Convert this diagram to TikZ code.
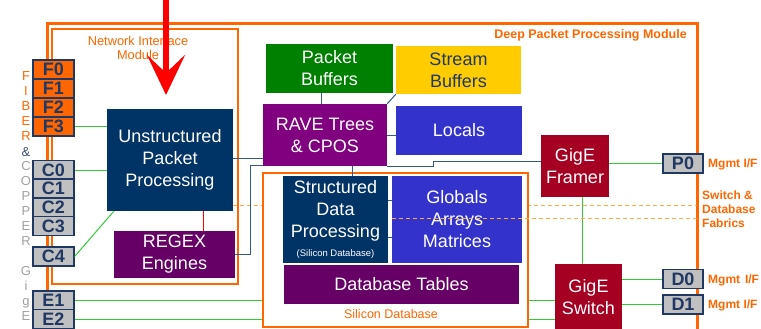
\documentclass[tikz,border=0pt]{standalone}
\usepackage{fontspec}
\setmainfont{Liberation Sans}
\usetikzlibrary{arrows.meta}

\definecolor{modorange}{RGB}{255,102,0}
\definecolor{dashorange}{RGB}{255,170,60}
\definecolor{navyblue}{RGB}{0,51,102}
\definecolor{regexpurple}{RGB}{102,0,102}
\definecolor{ravepurple}{RGB}{128,0,128}
\definecolor{bufgreen}{RGB}{0,128,0}
\definecolor{bufyellow}{RGB}{255,204,0}
\definecolor{memblue}{RGB}{51,51,204}
\definecolor{gigered}{RGB}{165,0,33}
\definecolor{portgray}{RGB}{192,192,192}
\definecolor{portblue}{RGB}{31,56,100}
\definecolor{linkgreen}{RGB}{51,204,51}
\definecolor{linkblue}{RGB}{51,90,140}
\definecolor{lettergray}{RGB}{160,160,160}

\tikzset{
  unit/.style={inner sep=0pt, align=center, text=white, font=\fontsize{18}{22}\selectfont},
  port/.style={draw=portblue, line width=1.2pt, fill=portgray, text=portblue, inner sep=0pt,
               minimum width=41, minimum height=19, font=\fontsize{18}{18}\selectfont\bfseries},
  module/.style={draw=modorange, line width=3pt},
  tag/.style={text=modorange, font=\fontsize{12.5}{14}\selectfont\bfseries, inner sep=0pt},
  green link/.style={draw=linkgreen, line width=1pt},
  blue link/.style={draw=linkblue, line width=1pt},
  fabric/.style={draw=dashorange, line width=1pt, dash pattern=on 4pt off 3pt},
}

\begin{document}
\begin{tikzpicture}[x=1pt, y=-1pt]
\useasboundingbox (0,0) rectangle (761,329);

% module frames
\draw[module] (47,24) rectangle (697,345);
\draw[module, line width=2.5pt] (52,29) rectangle (238,284);
\node[tag, anchor=east] (dppm) at (687,35) {Deep Packet Processing Module};
\node[tag, font=\fontsize{12.8}{14}\selectfont, align=center] (nim) at (138,48) {Network Interface\\Module};

% side letters
\node[text=modorange, font=\fontsize{13}{15}\selectfont, align=center, inner sep=0pt] (fiber) at (26,106.5) {F\\I\\B\\E\\R};
\node[text=portblue!70!gray, font=\fontsize{13}{15}\selectfont, inner sep=0pt] (amp) at (26,152) {\&};
\node[text=lettergray, font=\fontsize{13}{15}\selectfont, align=center, inner sep=0pt] (copper) at (26,203.5) {C\\O\\P\\P\\E\\R};
\node[text=lettergray, font=\fontsize{13}{15}\selectfont, align=center, inner sep=0pt] (gige) at (26,293.5) {G\\i\\g\\E};

% ports
\foreach \name/\y in {F0/69.5, F1/88.5, F2/107.5, F3/126.5}
  \node[port, fill=modorange] (\name) at (53.5,\y) {\name};
\foreach \name/\y in {C0/170, C1/188.5, C2/207.5, C3/226, C4/256.5, E1/300.5, E2/319}
  \node[port] (\name) at (53.5,\y) {\name};
\foreach \name/\y in {P0/163.5, D0/279, D1/304.5}
  \node[port, minimum width=40] (\name) at (683,\y) {\name};

\node[tag, font=\fontsize{12}{14}\selectfont\bfseries, anchor=west] (mgmtp) at (708,164) {Mgmt I/F};
\node[tag, font=\fontsize{12}{14}\selectfont\bfseries, anchor=west] (mgmtd0) at (708,280) {Mgmt\hspace{1.5pt} I/F};
\node[tag, font=\fontsize{12}{14}\selectfont\bfseries, anchor=west] (mgmtd1) at (708,305) {Mgmt I/F};
\node[tag, anchor=west, align=left, font=\fontsize{12}{14}\selectfont\bfseries] (fabrics) at (702,209) {Switch \&\\Database\\Fabrics};

% network interface
\node[unit, fill=navyblue, minimum width=126, minimum height=102] (upp) at (170,160) {Unstructured\\Packet\\Processing};
\node[unit, fill=regexpurple, minimum width=121, minimum height=47] (regex) at (174.5,254.5) {REGEX\\Engines};

% gige
\node[unit, fill=gigered, minimum width=68, minimum height=62] (framer) at (575,166) {GigE\\Framer};
\node[unit, fill=gigered, minimum width=67, minimum height=66] (switch) at (588.5,297) {GigE\\Switch};

% links behind the database
\draw[green link] (E1.east) -- (E1.east -| switch.west);
\draw[green link] (E2.east) -- (E2.east -| switch.west);
\coordinate (fabtop) at (697,205);
\draw[fabric] (upp.east |- fabtop) -- (fabtop);

% silicon database
\node[module, line width=2.5pt, fill=white, minimum width=265, minimum height=154, inner sep=0pt] (sdb) at (395.5,250) {};
\node[tag, font=\fontsize{12.5}{14}\selectfont] (sdblabel) at (391,314) {Silicon Database};
\node[unit, fill=navyblue, minimum width=105, minimum height=87] (sdp) at (335.5,219.5)
  {Structured\\Data\\Processing\\[-3pt]{\fontsize{9.5}{10}\selectfont(Silicon Database)}};
\node[unit, fill=memblue, minimum width=130, minimum height=87] (glob) at (457,219.5) {Globals\\Arrays\\Matrices};
\node[unit, fill=regexpurple, minimum width=235, minimum height=39] (dbt) at (401.5,284.5) {Database Tables};

% deep packet units
\node[unit, fill=bufgreen, minimum width=127, minimum height=49] (pbuf) at (329.5,68.5) {Packet\\Buffers};
\node[unit, fill=bufyellow, text=portblue, minimum width=125, minimum height=48] (sbuf) at (458.5,70) {Stream\\Buffers};
\node[unit, fill=ravepurple, minimum width=124, minimum height=62] (rave) at (325,135) {RAVE Trees\\\& CPOS};
\node[unit, fill=memblue, minimum width=126, minimum height=49] (locals) at (459,130.5) {Locals};

% links
\draw[green link] (F3.east) -- (F3.east -| upp.west);
\draw[green link] (C0.east) -- (C0.east -| upp.west);
\coordinate (c4end) at (114,211);
\draw[green link] (C4.east) -- (c4end);
\coordinate (rx) at (203,220);
\draw[red, line width=1pt] (upp.south -| rx) -- (regex.north -| rx);
\coordinate (ur) at (240,158);
\draw[blue link] (upp.east |- ur) -- (ur -| rave.west);
\coordinate (rj) at (250,165);
\draw[blue link] (regex.east) -| (rj) -- (rj -| rave.west);
\coordinate (pb) at (321,100);
\draw[blue link] (pbuf.south -| pb) -- (rave.north -| pb);
\draw[blue link] (sbuf.south west) -- (rave.north east);
\draw[blue link] (rave.east) -- (rave.east -| locals.west);
\coordinate (rs) at (352,170);
\draw[blue link] (rave.south -| rs) -- (sdp.north -| rs);
\coordinate (rf) at (433,161);
\draw[blue link] (rave.south east) -| (rf) -- (rf -| framer.west);
\coordinate (sg1) at (390,200);
\coordinate (sg2) at (390,237);
\draw[blue link] (sdp.east |- sg1) -- (glob.west |- sg1);
\draw[blue link] (sdp.east |- sg2) -- (glob.west |- sg2);
\draw[green link] (P0.west) -- (P0.west -| framer.east);
\coordinate (fs) at (582,230);
\draw[green link] (framer.south -| fs) -- (switch.north -| fs);
\draw[green link] (D0.west) -- (D0.west -| switch.east);
\draw[green link] (D1.west) -- (D1.west -| switch.east);
\coordinate (fabbot) at (697,218);
\draw[fabric] (glob.west |- fabbot) -- (fabbot);

% red marker
\coordinate (arrowtop) at (166,-2);
\coordinate (arrowtip) at (166,95);
\draw[red, line width=6pt, -{Stealth[length=40pt, width=38pt, inset=18pt]}] (arrowtop) -- (arrowtip);

\end{tikzpicture}
\end{document}
